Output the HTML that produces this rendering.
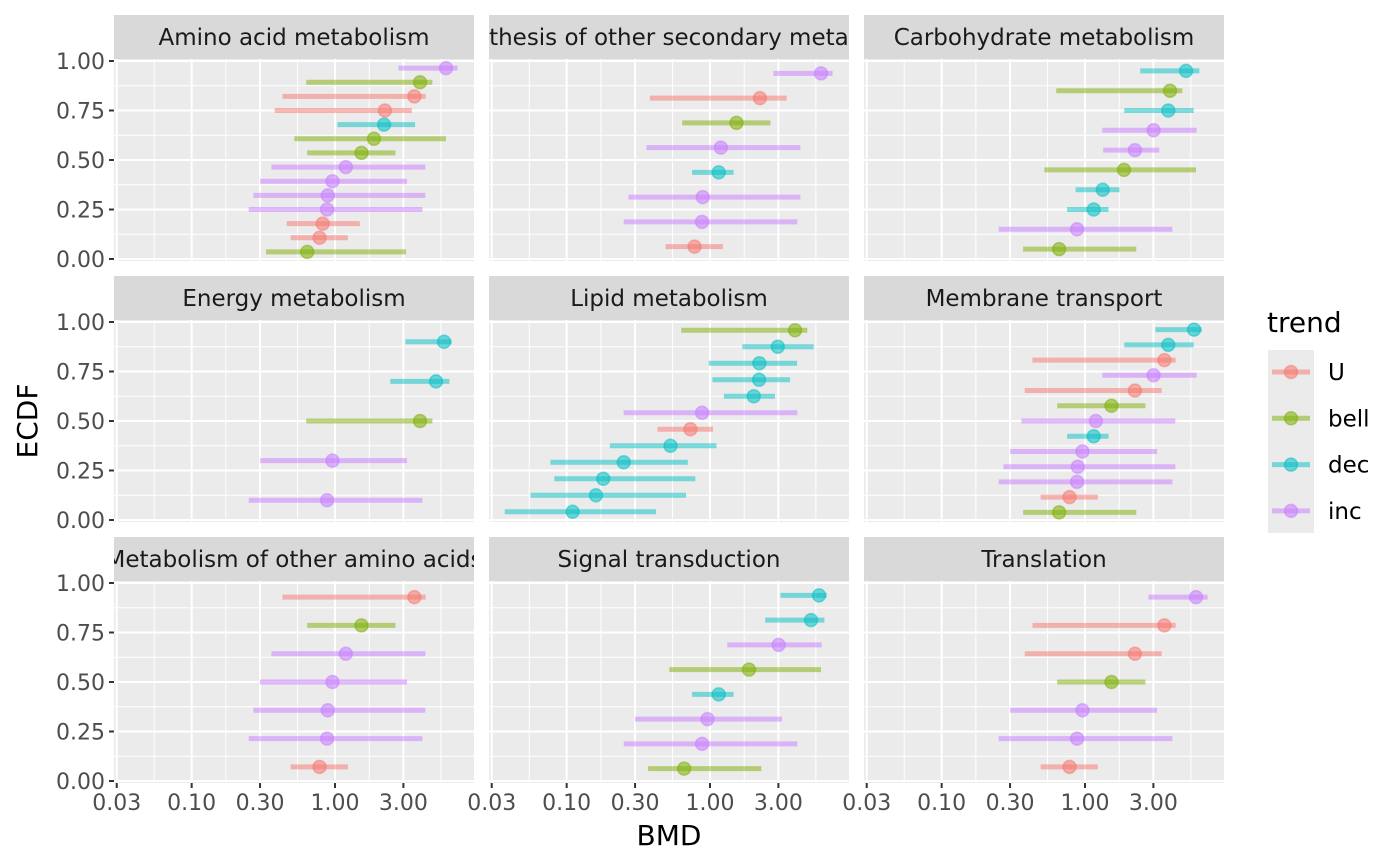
<!DOCTYPE html>
<html><head><meta charset="utf-8">
<style>
html,body{margin:0;padding:0;background:#fff;}
svg{display:block;font-family:"DejaVu Sans","Liberation Sans",sans-serif;}
</style></head>
<body>
<svg id="chart" width="1400" height="866" viewBox="0 0 1400 866" xmlns="http://www.w3.org/2000/svg">
<rect width="1400" height="866" fill="#fff"/>
<g id="panels"></g>
<text x="0" y="0" transform="translate(37,421) rotate(-90)" text-anchor="middle" font-size="28" fill="#000">ECDF</text>
<text x="669" y="845" text-anchor="middle" font-size="28" fill="#000">BMD</text>
<g id="legend">
<text x="1267" y="332" font-size="28" fill="#000">trend</text>
<rect x="1268" y="350" width="46" height="183" fill="#ebebeb"/>
</g>
</svg>
<script>
const panelNames = ["Amino acid metabolism","Biosynthesis of other secondary metabolites","Carbohydrate metabolism","Energy metabolism","Lipid metabolism","Membrane transport","Metabolism of other amino acids","Signal transduction","Translation"];
const trendNames = ["U","bell","dec","inc"];
const xTicks = [0.03,0.1,0.3,1,3];
const xTickLabels = ["0.03","0.10","0.30","1.00","3.00"];
const yTicks = [0,0.25,0.5,0.75,1];
const yTickLabels = ["0.00","0.25","0.50","0.75","1.00"];

const pointPanel = [
0,0,0,0,0,0,0,0,0,0,0,0,0,0,
1,1,1,1,1,1,1,1,
2,2,2,2,2,2,2,2,2,2,
3,3,3,3,3,
4,4,4,4,4,4,4,4,4,4,4,4,
5,5,5,5,5,5,5,5,5,5,5,5,5,
6,6,6,6,6,6,6,
7,7,7,7,7,7,7,7,
8,8,8,8,8,8,8];
const pointTrend = [
"inc","bell","U","U","dec","bell","bell","inc","inc","inc","inc","U","U","bell",
"inc","U","bell","inc","dec","inc","inc","U",
"dec","bell","dec","inc","inc","bell","dec","dec","inc","bell",
"dec","dec","bell","inc","inc",
"bell","dec","dec","dec","dec","inc","U","dec","dec","dec","dec","dec",
"dec","dec","U","inc","U","bell","inc","dec","inc","inc","inc","U","bell",
"U","bell","inc","inc","inc","inc","U",
"dec","dec","inc","bell","dec","inc","inc","bell",
"inc","U","U","bell","inc","inc","U"];
const bmd = [
5.95,3.92,3.58,2.23,2.20,1.87,1.53,1.19,0.96,0.89,0.88,0.82,0.78,0.64,
5.95,2.23,1.53,1.19,1.15,0.89,0.88,0.78,
5.07,3.92,3.81,3.01,2.23,1.87,1.33,1.15,0.88,0.66,
5.76,5.07,3.92,0.96,0.88,
3.92,2.97,2.21,2.20,2.02,0.88,0.73,0.53,0.25,0.18,0.16,0.11,
5.76,3.81,3.58,3.01,2.23,1.53,1.19,1.15,0.96,0.89,0.88,0.78,0.66,
3.58,1.53,1.19,0.96,0.89,0.88,0.78,
5.76,5.07,3.01,1.87,1.15,0.96,0.88,0.66,
5.95,3.58,2.23,1.53,0.96,0.88,0.78];
const bmdLower = [
2.77,0.63,0.43,0.38,1.04,0.52,0.64,0.36,0.30,0.27,0.25,0.46,0.49,0.33,
2.77,0.38,0.64,0.36,0.75,0.27,0.25,0.49,
2.43,0.63,1.88,1.32,1.34,0.52,0.86,0.75,0.25,0.37,
3.10,2.43,0.63,0.30,0.25,
0.63,1.68,0.98,1.04,1.25,0.25,0.43,0.20,0.077,0.082,0.056,0.037,
3.10,1.88,0.43,1.32,0.38,0.64,0.36,0.75,0.30,0.27,0.25,0.49,0.37,
0.43,0.64,0.36,0.30,0.27,0.25,0.49,
3.10,2.43,1.32,0.52,0.75,0.30,0.25,0.37,
2.77,0.43,0.38,0.64,0.30,0.25,0.49];
const bmdUpper = [
7.17,4.78,4.29,3.43,3.62,5.95,2.64,4.27,3.18,4.27,4.07,1.49,1.23,3.13,
7.17,3.43,2.64,4.27,1.46,4.27,4.07,1.23,
6.28,4.78,5.73,6.01,3.30,5.95,1.74,1.46,4.07,2.28,
6.52,6.28,4.78,3.18,4.07,
4.78,5.29,4.05,3.62,2.84,4.07,1.05,1.11,0.70,0.79,0.68,0.42,
6.52,5.73,4.29,6.01,3.43,2.64,4.27,1.46,3.18,4.27,4.07,1.23,2.28,
4.29,2.64,4.27,3.18,4.27,4.07,1.23,
6.52,6.28,6.01,5.95,1.46,3.18,4.07,2.28,
7.17,4.29,3.43,2.64,3.18,4.07,1.23];

const colors = {U:"#F8766D",bell:"#7CAE00",dec:"#00BFC4",inc:"#C77CFF"};
const NS = "http://www.w3.org/2000/svg";
const PW = 360, PH = 202;
function panelLeft(c){ return 114 + 375*c; }
function panelTop(r){ return 59 + 261*r; }
function xScale(c, v){ return 335 + 375*c + 143.33*Math.log10(v); }
function yScale(r, e){ return 259 + 261*r - e*198; }
function mk(tag, attrs, parent){
  const el = document.createElementNS(NS, tag);
  for (const k in attrs) el.setAttribute(k, attrs[k]);
  parent.appendChild(el);
  return el;
}
const root = document.getElementById('panels');
const defs = mk('defs', {}, root);

const ecdf = new Array(bmd.length).fill(0);
for (let p = 0; p < panelNames.length; p++) {
  const idx = [];
  for (let i = 0; i < bmd.length; i++) if (pointPanel[i] === p) idx.push(i);
  idx.sort((a,b) => (bmd[b]-bmd[a]) || (a-b));
  const n = idx.length;
  idx.forEach((i,j) => { ecdf[i] = (n - j - 0.5)/n; });
}

const majorLog = xTicks.map(v => Math.log10(v));
const minorLog = [];
for (let i = 0; i < majorLog.length; i++) {
  const next = i < majorLog.length-1 ? majorLog[i+1] : Math.log10(10);
  minorLog.push((majorLog[i]+next)/2);
}

for (let p = 0; p < panelNames.length; p++) {
  const r = Math.floor(p/3), c = p % 3;
  const L = panelLeft(c), T = panelTop(r);
  const g = mk('g', {}, root);
  
  
  const cp = mk('clipPath', {id: 'clip' + p}, defs);
  mk('rect', {x: L, y: T-44, width: PW, height: 44}, cp);
  const strip = mk('rect', {x: L, y: T-44, width: PW, height: 44, fill: '#d9d9d9'}, g);
  
  
  const st = mk('text', {x: L + PW/2, y: T-14, 'text-anchor': 'middle', 'font-size': 23, fill: '#1a1a1a', 'clip-path': 'url(#clip' + p + ')'}, g);
  st.textContent = panelNames[p];
  
  
  const bg = mk('rect', {x: L, y: T, width: PW, height: PH, fill: '#ebebeb'}, g);
  
  
  minorLog.forEach(lv => { const x = xScale(c, Math.pow(10, lv)); if (x < L+PW) mk('line', {x1: x, x2: x, y1: T, y2: T+PH, stroke: '#fff', 'stroke-width': 1}, g); });
  for (let k = 0; k < yTicks.length-1; k++) { const y = yScale(r, (yTicks[k]+yTicks[k+1])/2); mk('line', {x1: L, x2: L+PW, y1: y, y2: y, stroke: '#fff', 'stroke-width': 1}, g); }
  xTicks.forEach(v => { const x = xScale(c, v); mk('line', {x1: x, x2: x, y1: T, y2: T+PH, stroke: '#fff', 'stroke-width': 2}, g); });
  yTicks.forEach(v => { const y = yScale(r, v); mk('line', {x1: L, x2: L+PW, y1: y, y2: y, stroke: '#fff', 'stroke-width': 2}, g); });
  for (let i = 0; i < bmd.length; i++) {
    if (pointPanel[i] !== p) continue;
    const col = colors[pointTrend[i]];
    const y = yScale(r, ecdf[i]);
    const bar = mk('line', {x1: xScale(c, bmdLower[i]), x2: xScale(c, bmdUpper[i]), y1: y, y2: y, stroke: col, 'stroke-width': 5, 'stroke-opacity': 0.5}, g);
    
    
  }
  for (let i = 0; i < bmd.length; i++) {
    if (pointPanel[i] !== p) continue;
    const col = colors[pointTrend[i]];
    const pt = mk('circle', {cx: xScale(c, bmd[i]), cy: yScale(r, ecdf[i]), r: 6.5, fill: col, 'fill-opacity': 0.55, stroke: col, 'stroke-opacity': 0.5, 'stroke-width': 1.5}, g);
    
    
  }
  if (c === 0) {
    yTicks.forEach((v,k) => {
      const y = yScale(r, v);
      mk('line', {x1: L-5, x2: L, y1: y, y2: y, stroke: '#333', 'stroke-width': 2}, g);
      const t = mk('text', {x: L-9, y: y+8, 'text-anchor': 'end', 'font-size': 22, fill: '#4d4d4d'}, g);
      t.textContent = yTickLabels[k];
      
      
    });
  }
  if (r === 2) {
    xTicks.forEach((v,k) => {
      const x = xScale(c, v);
      mk('line', {x1: x, x2: x, y1: T+PH, y2: T+PH+5, stroke: '#333', 'stroke-width': 2}, g);
      const t = mk('text', {x: x, y: T+PH+27, 'text-anchor': 'middle', 'font-size': 22, fill: '#4d4d4d'}, g);
      t.textContent = xTickLabels[k];
      
      
    });
  }
}

const leg = document.getElementById('legend');
trendNames.forEach((tn, k) => {
  const y = 372 + k*46.3;
  const col = colors[tn];
  const l = mk('line', {x1: 1272, x2: 1310, y1: y, y2: y, stroke: col, 'stroke-width': 5, 'stroke-opacity': 0.5}, leg);
  
  
  const ci = mk('circle', {cx: 1291, cy: y, r: 6.5, fill: col, 'fill-opacity': 0.55, stroke: col, 'stroke-opacity': 0.5, 'stroke-width': 1.5}, leg);
  
  
  const t = mk('text', {x: 1328, y: y+8, 'font-size': 23, fill: '#000'}, leg);
  t.textContent = tn;
  
  
});
</script>
</body></html>
